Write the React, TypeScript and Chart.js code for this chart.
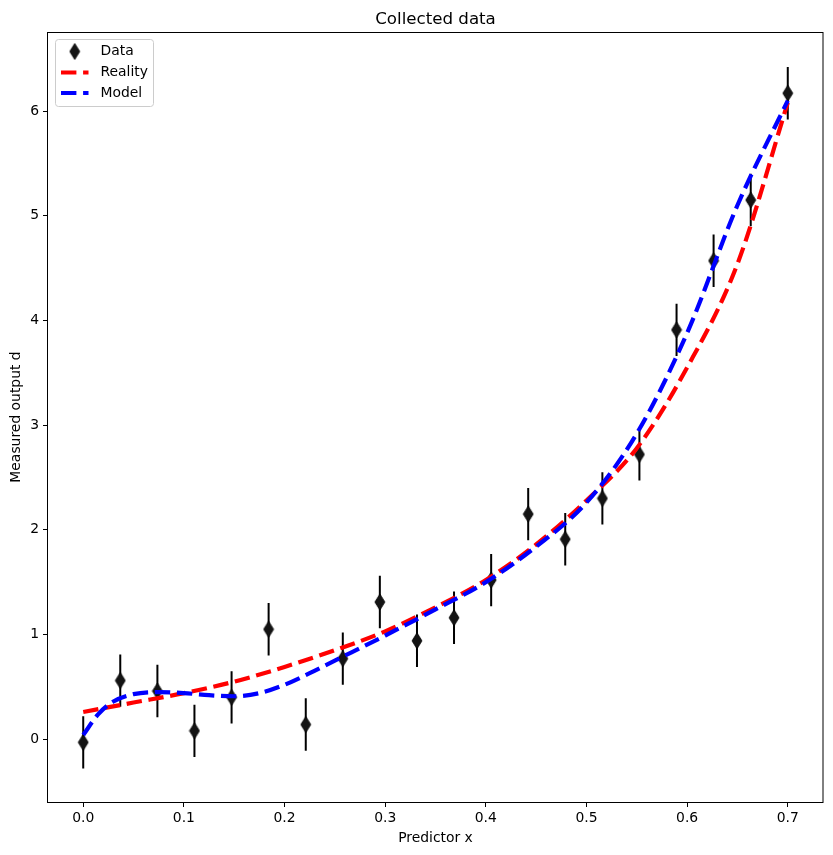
import { useEffect, useRef } from "react";
import { Chart, registerables } from "chart.js";

Chart.register(...registerables);

// Measured samples
const xData = [0.0, 0.0368, 0.0737, 0.1105, 0.1474, 0.1842, 0.2211, 0.2579, 0.2947, 0.3316, 0.3684, 0.4053, 0.4421, 0.4789, 0.5158, 0.5526, 0.5895, 0.6263, 0.6632, 0.7];
const dData = [-0.03, 0.56, 0.46, 0.08, 0.4, 1.05, 0.14, 0.77, 1.31, 0.94, 1.16, 1.52, 2.15, 1.91, 2.3, 2.72, 3.91, 4.57, 5.15, 6.17];
const dErr = [0.25, 0.25, 0.25, 0.25, 0.25, 0.25, 0.25, 0.25, 0.25, 0.25, 0.25, 0.25, 0.25, 0.25, 0.25, 0.25, 0.25, 0.25, 0.25, 0.25];

// True underlying curve
const realityX = [0.0, 0.05, 0.1, 0.15, 0.2, 0.25, 0.3, 0.35, 0.4, 0.45, 0.5, 0.55, 0.6, 0.65, 0.7];
const realityD = [0.26, 0.35, 0.44, 0.55, 0.69, 0.85, 1.03, 1.26, 1.52, 1.86, 2.28, 2.78, 3.55, 4.54, 6.08];

// Fitted model curve
const modelX = [0.0, 0.015, 0.03, 0.05, 0.075, 0.1, 0.125, 0.15, 0.175, 0.2, 0.225, 0.25, 0.3, 0.35, 0.4, 0.45, 0.5, 0.55, 0.6, 0.65, 0.7];
const modelD = [0.04, 0.24, 0.36, 0.43, 0.45, 0.44, 0.42, 0.41, 0.44, 0.52, 0.63, 0.75, 0.99, 1.24, 1.5, 1.84, 2.26, 2.92, 3.88, 5.1, 6.1];

const xTickDigits = 1;

const FONT = '"DejaVu Sans", "Liberation Sans", sans-serif';
const LABEL_SIZE = 13.9;
const TITLE_SIZE = 16.67;
const DASH = [15.4, 6.7];

function makeDiamond(): HTMLCanvasElement {
  const c = document.createElement("canvas");
  c.width = 12;
  c.height = 18;
  const g = c.getContext("2d")!;
  g.beginPath();
  g.moveTo(6, 1);
  g.lineTo(11, 9);
  g.lineTo(6, 17);
  g.lineTo(1, 9);
  g.closePath();
  g.fillStyle = "#141414";
  g.fill();
  g.strokeStyle = "#000";
  g.lineWidth = 0.8;
  g.stroke();
  return c;
}

export default function App() {
  const ref = useRef<HTMLCanvasElement>(null);

  useEffect(() => {
    document.body.style.margin = "0";
    const canvas = ref.current!;
    const diamond = makeDiamond();

    const points = xData.map((x, i) => ({ x, y: dData[i] }));
    const errPts: { x: number; y: number | null }[] = [];
    xData.forEach((x, i) => {
      errPts.push({ x, y: dData[i] - dErr[i] });
      errPts.push({ x, y: dData[i] + dErr[i] });
      errPts.push({ x, y: null });
    });
    const realityPts = realityX.map((x, i) => ({ x, y: realityD[i] }));
    const modelPts = modelX.map((x, i) => ({ x, y: modelD[i] }));

    const decor = {
      id: "decor",
      afterDraw(chart: any) {
        const { ctx, chartArea: a } = chart;
        ctx.save();
        // axes frame
        ctx.strokeStyle = "#000";
        ctx.lineWidth = 1;
        ctx.strokeRect(a.left - 0.5, a.top + 0.5, a.right - a.left + 0.5, a.bottom - a.top);
        // title
        ctx.fillStyle = "#000";
        ctx.font = `${TITLE_SIZE}px ${FONT}`;
        ctx.textAlign = "center";
        ctx.textBaseline = "alphabetic";
        ctx.fillText("Collected data", (a.left + a.right) / 2, 24);

        // legend
        const bx = a.left + 7.5;
        const by = a.top + 7.5;
        const bw = 98;
        const bh = 67;
        const r = 3;
        ctx.beginPath();
        ctx.moveTo(bx + r, by);
        ctx.lineTo(bx + bw - r, by);
        ctx.arcTo(bx + bw, by, bx + bw, by + r, r);
        ctx.lineTo(bx + bw, by + bh - r);
        ctx.arcTo(bx + bw, by + bh, bx + bw - r, by + bh, r);
        ctx.lineTo(bx + r, by + bh);
        ctx.arcTo(bx, by + bh, bx, by + bh - r, r);
        ctx.lineTo(bx, by + r);
        ctx.arcTo(bx, by, bx + r, by, r);
        ctx.closePath();
        ctx.fillStyle = "rgba(255,255,255,0.8)";
        ctx.fill();
        ctx.strokeStyle = "#cccccc";
        ctx.lineWidth = 1;
        ctx.stroke();

        const hx0 = bx + 5.5;
        const hx1 = bx + 33;
        const tx = bx + 45;
        const rows = [by + 12, by + 33, by + 53.5];
        ctx.drawImage(diamond, (hx0 + hx1) / 2 - 6, rows[0] - 9);
        ctx.lineWidth = 4.2;
        ctx.setLineDash(DASH);
        ctx.strokeStyle = "#ff0000";
        ctx.beginPath();
        ctx.moveTo(hx0, rows[1]);
        ctx.lineTo(hx1, rows[1]);
        ctx.stroke();
        ctx.strokeStyle = "#0000ff";
        ctx.beginPath();
        ctx.moveTo(hx0, rows[2]);
        ctx.lineTo(hx1, rows[2]);
        ctx.stroke();
        ctx.setLineDash([]);
        ctx.fillStyle = "#000";
        ctx.font = `${LABEL_SIZE}px ${FONT}`;
        ctx.textAlign = "left";
        ctx.textBaseline = "middle";
        ctx.fillText("Data", tx, rows[0]);
        ctx.fillText("Reality", tx, rows[1]);
        ctx.fillText("Model", tx, rows[2]);
        ctx.restore();
      },
    };

    const tickFont = { family: FONT, size: LABEL_SIZE };

    const chart = new Chart(canvas, {
      type: "line",
      data: {
        datasets: [
          {
            label: "errors",
            data: errPts as any,
            borderColor: "#000",
            borderWidth: 2,
            pointRadius: 0,
            spanGaps: false,
            order: 4,
          },
          {
            label: "Data",
            data: points,
            showLine: false,
            pointStyle: diamond as any,
            pointRadius: 8,
            order: 3,
          },
          {
            label: "Reality",
            data: realityPts,
            borderColor: "#ff0000",
            borderWidth: 4.2,
            borderDash: DASH,
            borderCapStyle: "butt",
            pointRadius: 0,
            cubicInterpolationMode: "monotone",
            order: 2,
          },
          {
            label: "Model",
            data: modelPts,
            borderColor: "#0000ff",
            borderWidth: 4.2,
            borderDash: DASH,
            borderCapStyle: "butt",
            pointRadius: 0,
            cubicInterpolationMode: "monotone",
            order: 1,
          },
        ],
      },
      options: {
        responsive: false,
        animation: false,
        events: [],
        layout: { padding: { top: 32, right: 10, left: 0, bottom: 0 } },
        plugins: {
          legend: { display: false },
          title: { display: false },
          tooltip: { enabled: false },
        },
        scales: {
          x: {
            type: "linear",
            min: -0.035,
            max: 0.735,
            afterFit: (s: any) => {
              s.height = 53;
            },
            ticks: {
              stepSize: 0.1,
              includeBounds: false,
              autoSkip: false,
              maxRotation: 0,
              padding: 3,
              color: "#000",
              font: tickFont,
              callback: (v: any) => Number(v).toFixed(xTickDigits),
            },
            grid: { display: true, drawOnChartArea: false, drawTicks: true, tickLength: 5, color: "#000" },
            border: { display: false },
            title: {
              display: true,
              text: "Predictor x",
              color: "#000",
              font: tickFont,
              padding: { top: 0, bottom: 8.6 },
            },
          },
          y: {
            type: "linear",
            min: -0.6,
            max: 6.755,
            afterFit: (s: any) => {
              s.width = 48;
            },
            ticks: {
              stepSize: 1,
              includeBounds: false,
              padding: 4,
              color: "#000",
              font: tickFont,
              callback: (v: any) => String(Math.round(Number(v))),
            },
            grid: { display: true, drawOnChartArea: false, drawTicks: true, tickLength: 5, color: "#000" },
            border: { display: false },
            title: {
              display: true,
              text: "Measured output d",
              color: "#000",
              font: tickFont,
              padding: { top: 7.6, bottom: 0 },
            },
          },
        },
      },
      plugins: [decor],
    });

    return () => chart.destroy();
  }, []);

  return (
    <div style={{ width: 833, height: 855 }}>
      <canvas ref={ref} width={833} height={855} style={{ display: "block" }} />
    </div>
  );
}
